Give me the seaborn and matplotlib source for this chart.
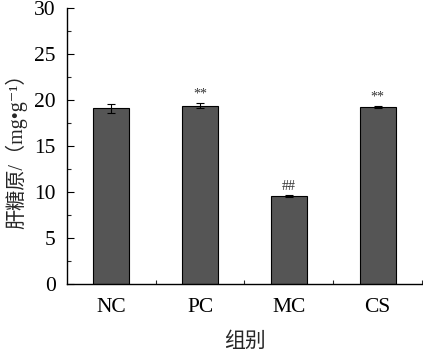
import matplotlib
matplotlib.use("Agg")
import matplotlib.pyplot as plt
import seaborn as sns
import pandas as pd
from matplotlib.ticker import MultipleLocator, FixedLocator

groups = ["NC", "PC", "MC", "CS"]
values = [19.1, 19.4, 9.55, 19.25]
errors = [0.5, 0.3, 0.1, 0.12]
marks = ["", "**", "##", "**"]

sns.set_theme(style="ticks")
plt.rcParams['font.family'] = ['Liberation Serif', 'Noto Sans CJK SC', 'DejaVu Sans']

df = pd.DataFrame({"group": groups, "value": values})

fig = plt.figure(figsize=(4.23, 3.52), dpi=100)
ax = fig.add_axes([0.158, 0.193, 0.84, 0.784])

sns.barplot(data=df, x="group", y="value", order=groups, color="#555555",
            saturation=1, width=0.4, edgecolor="black", linewidth=0.8,
            errorbar=None, ax=ax)
ax.errorbar(range(len(groups)), values, yerr=errors, fmt="none",
            ecolor="black", elinewidth=0.8, capsize=3, capthick=0.8)

for i, (v, e, m) in enumerate(zip(values, errors, marks)):
    if m:
        ax.text(i, v + e + 0.3, m, ha="center", va="bottom", fontsize=10,
                color="#333333")

ax.set_xlim(-0.5, 3.5)
ax.set_ylim(0, 30)
ax.yaxis.set_major_locator(MultipleLocator(5))
ax.yaxis.set_minor_locator(MultipleLocator(2.5))
ax.xaxis.set_minor_locator(FixedLocator([0.5, 1.5, 2.5, 3.5]))

for s in ["top", "right"]:
    ax.spines[s].set_visible(False)
for s in ["left", "bottom"]:
    ax.spines[s].set_linewidth(1.0)
    ax.spines[s].set_color("black")

ax.tick_params(axis="both", which="major", direction="in", length=5,
               width=0.8, labelsize=15.5, pad=8, colors="black")
ax.tick_params(axis="both", which="minor", direction="in", length=3, width=0.8)
ax.tick_params(axis="x", which="major", pad=10)

ax.set_xlabel("组别", fontsize=15, labelpad=11)
ax.set_ylabel("肝糖原/（mg•g⁻¹）", fontsize=14.5, labelpad=5)

fig.savefig("out.png", dpi=100)
